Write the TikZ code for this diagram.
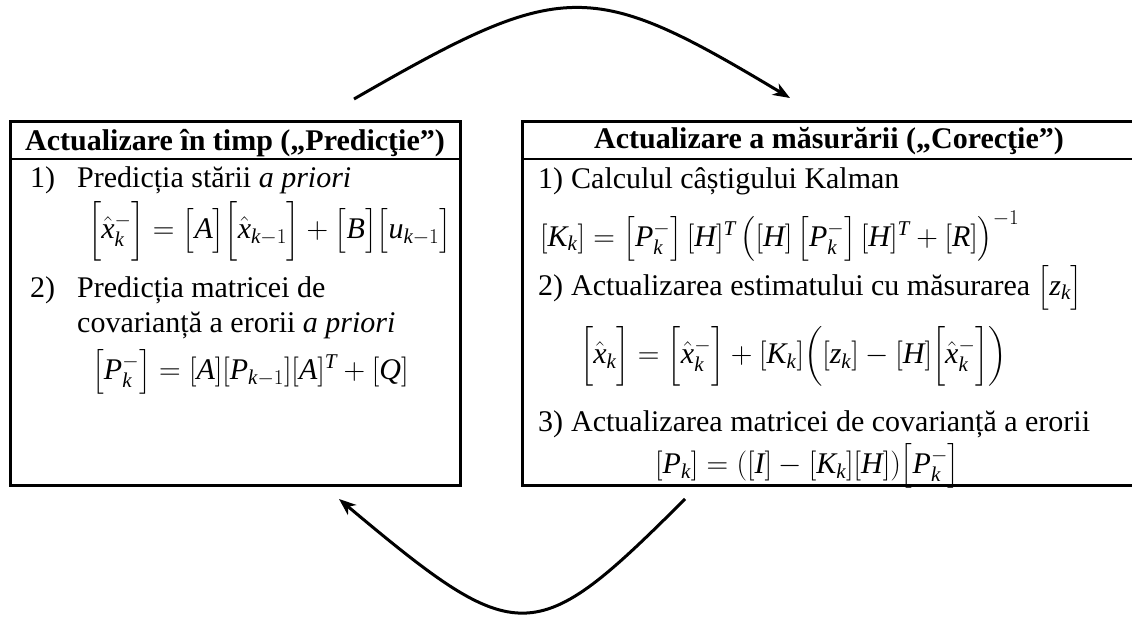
\RequirePackage{fix-cm}
\documentclass[tikz,border=0pt]{standalone}
\usepackage{amsmath}
\usepackage{fontspec}
\setmainfont{Liberation Serif}
\usetikzlibrary{arrows.meta}
\DeclareSymbolFont{lettersTU}{TU}{\rmdefault}{m}{it}
\DeclareMathSymbol{x}{\mathalpha}{lettersTU}{`x}
\DeclareMathSymbol{k}{\mathalpha}{lettersTU}{`k}
\DeclareMathSymbol{u}{\mathalpha}{lettersTU}{`u}
\DeclareMathSymbol{z}{\mathalpha}{lettersTU}{`z}
\DeclareMathSymbol{A}{\mathalpha}{lettersTU}{`A}
\DeclareMathSymbol{B}{\mathalpha}{lettersTU}{`B}
\DeclareMathSymbol{P}{\mathalpha}{lettersTU}{`P}
\DeclareMathSymbol{Q}{\mathalpha}{lettersTU}{`Q}
\DeclareMathSymbol{K}{\mathalpha}{lettersTU}{`K}
\DeclareMathSymbol{H}{\mathalpha}{lettersTU}{`H}
\DeclareMathSymbol{T}{\mathalpha}{lettersTU}{`T}
\DeclareMathSymbol{R}{\mathalpha}{lettersTU}{`R}
\DeclareMathSymbol{I}{\mathalpha}{lettersTU}{`I}
\newcommand{\bk}[1]{\bigl[#1\bigr]}
\newcommand{\Bk}[1]{\Bigl[#1\Bigr]}
\newcommand{\pk}{\left[P_k^-\right]}
\begin{document}
\begin{tikzpicture}[x=1pt,y=-1pt,
  box/.style={draw, line width=2.6pt, inner sep=0pt},
  txt/.style={inner sep=0pt, font=\fontsize{30}{36}\selectfont},
  hdr/.style={inner sep=0pt, font=\fontsize{30}{36}\selectfont\bfseries},
  arr/.style={line width=3pt, -{Stealth[length=17pt,width=13pt,inset=5pt]}}]
\useasboundingbox (0,0) rectangle (1132,618);
% boxes
\node[box, anchor=north west, minimum width=450pt, minimum height=364pt] (L) at (9,120) {};
\node[box, anchor=north west, minimum width=616pt, minimum height=364pt] (R) at (521,120) {};
\draw[line width=2.6pt] (9,159) -- (459,159);
\draw[line width=2.6pt] (521,159) -- (1137,159);
% left content
\node[hdr, anchor=base] (Lh) at (235,150) {Actualizare în timp („Predicţie”)};
\node[txt, anchor=base west] (L1) at (30,187) {\makebox[47pt][l]{1)}Predicția stării \textit{a priori}};
\node[txt, anchor=west] (Le1) at (88,231) {$\Bk{\hat{x}_k^-}=\bk{A}\Bk{\hat{x}_{k-1}}+\bk{B}\bk{u_{k-1}}$};
\node[txt, anchor=base west] (L2) at (30,297) {\makebox[47pt][l]{2)}Predicția matricei de};
\node[txt, anchor=base west] (L2b) at (77,332) {covarianță a erorii \textit{a priori}};
\node[txt, anchor=west] (Le2) at (92,372) {$\pk=[A][P_{k-1}][A]^T+[Q]$};
% right content
\node[hdr, anchor=base] (Rh) at (829,148) {Actualizare a măsurării („Corecţie”)};
\node[txt, anchor=base west] (R1) at (538,188) {\makebox[33pt][l]{1)}Calculul câștigului Kalman};
\node[txt, anchor=west] (Re1) at (540,236) {$[K_k]=\pk[H]^T\left([H]\pk[H]^T+[R]\right)^{-1}$};
\node[txt, anchor=base west] (R2) at (538,295) {\makebox[33pt][l]{2)}Actualizarea estimatului cu măsurarea $\bigl[z_k\bigr]$};
\node[txt, anchor=west] (Re2) at (580,356) {$\Bk{\hat{x}_k}=\Bk{\hat{x}_k^-}+[K_k]\Bigl([z_k]-[H]\Bk{\hat{x}_k^-}\Bigr)$};
\node[txt, anchor=base west] (R3) at (538,431) {\makebox[33pt][l]{3)}Actualizarea matricei de covarianță a erorii};
\node[txt, anchor=west] (Re3) at (655,466) {$[P_k]=([I]-[K_k][H])\bk{P_k^-}$};
% cycle arrows
\coordinate (a1s) at (354,99);
\coordinate (a1e) at (790,98);
\draw[arr] (a1s) .. controls (564,-22) and (590,-22) .. (a1e);
\coordinate (a2s) at (685,499);
\coordinate (a2e) at (339,499);
\draw[arr] (a2s) .. controls (534,650) and (519,650) .. (a2e);
\end{tikzpicture}
\end{document}
